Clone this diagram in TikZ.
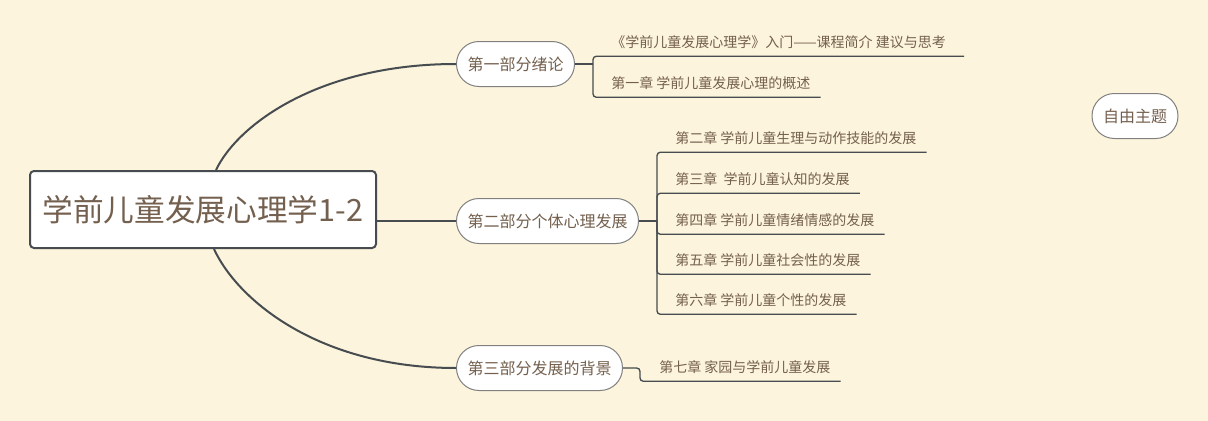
\documentclass[tikz,border=0pt]{standalone}
\usepackage{fontspec}
\setmainfont{Noto Sans CJK SC}
\usetikzlibrary{positioning}
\definecolor{bgcream}{RGB}{252,244,220}
\definecolor{inkbrown}{RGB}{116,96,78}
\definecolor{linegray}{RGB}{70,76,80}
\definecolor{pillgray}{RGB}{128,128,128}

\begin{document}
\begin{tikzpicture}[x=0.75pt, y=-0.75pt,
  central/.style={draw=linegray, line width=1.5pt, fill=white, rounded corners=3pt, text=inkbrown,
    font=\fontsize{23}{27}\selectfont, minimum width=259.5pt, minimum height=57.75pt},
  topic/.style={draw=pillgray, line width=0.75pt, fill=white, rounded corners=16.8pt, text=inkbrown,
    font=\fontsize{12}{14}\selectfont, inner xsep=8.25pt, minimum height=33.75pt},
  chapter/.style={anchor=west, text=inkbrown, font=\fontsize{10.5}{12}\selectfont,
    text height=8.4pt, text depth=2.1pt, inner xsep=7.5pt, inner ysep=4.5pt},
  branch/.style={draw=linegray, line width=1.5pt},
  leaf/.style={draw=linegray, line width=1pt, rounded corners=2.5pt}]
  \useasboundingbox (0,0) rectangle (1208,421);
  \fill[bgcream] (0,0) rectangle (1208,421);

  \node[central] at (203,209.5) (root) {学前儿童发展心理学1-2};

  \node[topic, anchor=west] at (456,64)  (p1) {第一部分绪论};
  \node[topic, anchor=west] at (456,221) (p2) {第二部分个体心理发展};
  \node[topic, anchor=west] at (456,368) (p3) {第三部分发展的背景};
  \node[topic] at (1135,116) (free) {自由主题};

  \node[chapter] at (601,43)  (c1a) {《学前儿童发展心理学》入门——课程简介 建议与思考};
  \node[chapter] at (601,84)  (c1b) {第一章 学前儿童发展心理的概述};

  \node[chapter] at (665,139) (c2a) {第二章 学前儿童生理与动作技能的发展};
  \node[chapter] at (665,180) (c2b) {第三章 \ 学前儿童认知的发展};
  \node[chapter] at (665,221) (c2c) {第四章 学前儿童情绪情感的发展};
  \node[chapter] at (665,261) (c2d) {第五章 学前儿童社会性的发展};
  \node[chapter] at (665,301) (c2e) {第六章 学前儿童个性的发展};

  \node[chapter] at (649,368) (c3a) {第七章 家园与学前儿童发展};

  \coordinate (j1) at (593,64);
  \coordinate (j2) at (657,221);
  \coordinate (j3) at (640,368);

  % main branches
  \draw[branch] ([xshift=9.75pt]root.north) .. controls +(22,-46) and +(-136,0) .. (p1.west);
  \draw[branch] (root.east |- p2.west) -- (p2.west);
  \draw[branch] ([xshift=8.25pt]root.south) .. controls +(24,52) and +(-136,0) .. (p3.west);

  % chapters
  \draw[leaf] (p1.east) -- (j1);
  \draw[leaf] (j1) |- ([xshift=6pt]c1a.south east);
  \draw[leaf] (j1) |- (c1b.south east);

  \draw[leaf] (p2.east) -- (j2);
  \draw[leaf] (j2) |- (c2a.south east);
  \draw[leaf] (j2) |- (c2b.south east);
  \draw[leaf] (j2) |- (c2c.south east);
  \draw[leaf] (j2) |- (c2d.south east);
  \draw[leaf] (j2) |- (c2e.south east);

  \draw[leaf] (p3.east) -- (j3) |- (c3a.south east);
\end{tikzpicture}
\end{document}
